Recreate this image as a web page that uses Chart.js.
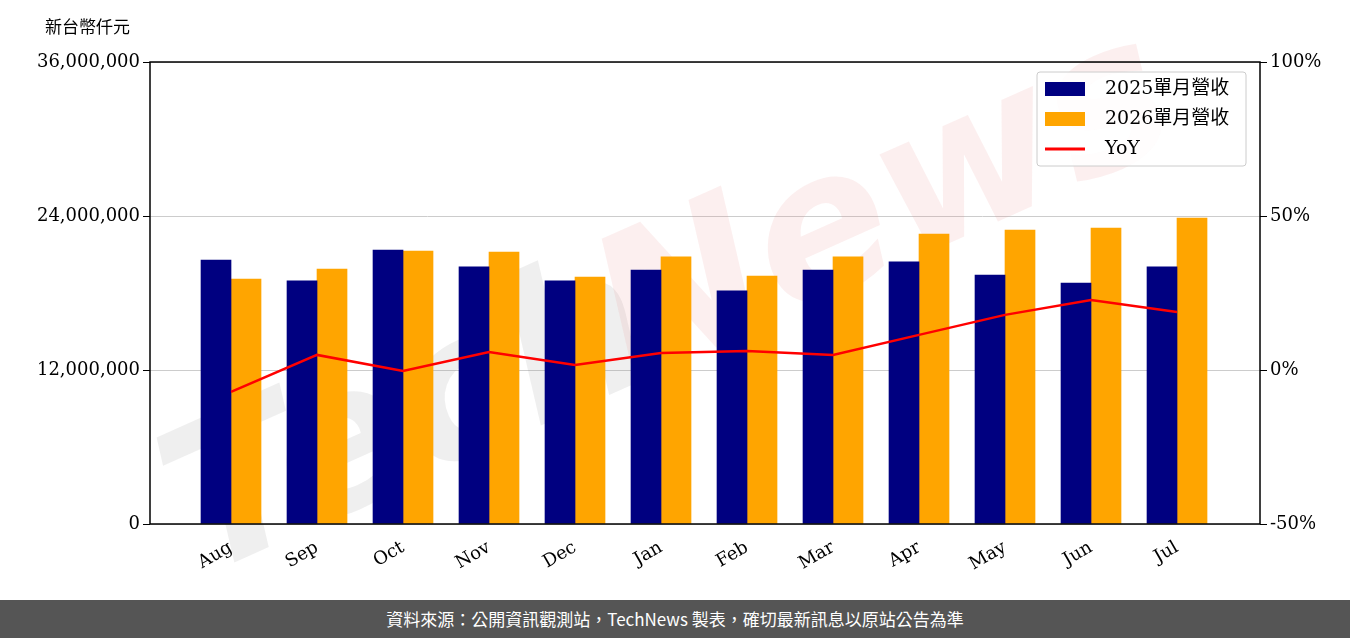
<!DOCTYPE html>
<html><head><meta charset="utf-8">
<script src="https://cdn.jsdelivr.net/npm/chart.js@4"></script>
<style>
body{margin:0;background:#fff;width:1350px;height:638px;overflow:hidden}
#wrap{position:relative;width:1350px;height:600px}
#foot{height:38px;background:#555;color:#fff;font:17px "Noto Sans CJK TC",sans-serif;text-align:center;line-height:38px}
</style></head><body>
<div id="wrap"><canvas id="c" width="1350" height="600"></canvas></div>
<div id="foot">資料來源：公開資訊觀測站，TechNews 製表，確切最新訊息以原站公告為準</div>
<script>
const months = ['Aug','Sep','Oct','Nov','Dec','Jan','Feb','Mar','Apr','May','Jun','Jul'];
const rev2025 = [20570000,18940000,21350000,20030000,18940000,19790000,18160000,19790000,20420000,19400000,18780000,20030000];
const rev2026 = [19090000,19870000,21270000,21190000,19250000,20810000,19320000,20810000,22600000,22900000,23060000,23840000];
const yoy = [-7.1,4.9,-0.3,5.8,1.6,5.5,6.2,4.9,11.4,17.9,22.7,18.8];
const leftTicks = [0,12000000,24000000,36000000];
const rightTicks = [-50,0,50,100];
const serif = '"DejaVu Serif", serif';

const pts = arr => arr.map((v,i)=>({x:i,y:v}));

const deco = {
  id:'deco',
  beforeDatasetsDraw(chart){
    const c = chart.ctx;
    c.save();
    c.translate(650,320);
    c.rotate(-0.42);
    c.font = 'italic bold 200px "DejaVu Sans"';
    c.textAlign='center';c.textBaseline='middle';
    c.fillStyle='rgba(150,150,150,0.15)';
    c.fillText('Tech',-260,0);
    c.fillStyle='rgba(230,120,120,0.12)';
    c.fillText('News',260,0);
    c.restore();
  },
  afterDraw(chart){
    const c = chart.ctx, a = chart.chartArea;
    c.save();
    c.strokeStyle='#000';c.lineWidth=1.5;
    c.strokeRect(a.left,a.top,a.right-a.left,a.bottom-a.top);
    c.fillStyle='#000';c.font='17px "Noto Sans CJK TC"';c.textBaseline='middle';
    c.fillText('新台幣仟元',45,27);
    const x=1037,y=72,w=209,h=94;
    c.fillStyle='rgba(255,255,255,0.85)';c.strokeStyle='#ccc';c.lineWidth=1;
    c.beginPath();c.roundRect(x,y,w,h,3);c.fill();c.stroke();
    const items=[['navy','2025單月營收','box'],['orange','2026單月營收','box'],['red','YoY','line']];
    items.forEach((it,i)=>{
      const yy=y+17+i*30;
      if(it[2]==='box'){c.fillStyle=it[0];c.fillRect(x+8,yy-7,40,14);}
      else{c.strokeStyle=it[0];c.lineWidth=3;c.beginPath();c.moveTo(x+8,yy);c.lineTo(x+48,yy);c.stroke();}
      c.fillStyle='#000';c.font='19px "DejaVu Serif","Noto Sans CJK TC"';c.fillText(it[1],x+68,yy);
    });
    c.restore();
  }
};

new Chart(document.getElementById('c'),{
  data:{datasets:[
    {type:'line',label:'YoY',data:pts(yoy),yAxisID:'y2',borderColor:'red',borderWidth:2.5,pointRadius:0,tension:0,order:0},
    {type:'bar',label:'2025單月營收',data:pts(rev2025),backgroundColor:'navy',yAxisID:'y',barThickness:30,order:1},
    {type:'bar',label:'2026單月營收',data:pts(rev2026),backgroundColor:'orange',yAxisID:'y',barThickness:30,order:1}
  ]},
  options:{
    responsive:false,animation:false,devicePixelRatio:1,
    layout:{padding:{top:62,left:0,right:0,bottom:0}},
    plugins:{legend:{display:false},tooltip:{enabled:false}},
    scales:{
      x:{type:'linear',min:-0.942,max:11.965,offset:false,
        afterBuildTicks(s){s.ticks=months.map((m,i)=>({value:i}));},
        grid:{display:false},border:{display:false},
        ticks:{color:'#000',font:{family:serif,size:18},minRotation:30,maxRotation:30,labelOffset:0,padding:5,
          callback:v=>months[v]},
        afterFit(s){s.height=76;}},
      y:{position:'left',min:0,max:36000000,
        afterBuildTicks(s){s.ticks=leftTicks.map(v=>({value:v}));},
        grid:{color:'#ccc',tickColor:'#000',tickLength:7},border:{display:false},
        ticks:{color:'#000',font:{family:serif,size:18},callback:v=>v.toLocaleString('en-US')},
        afterFit(s){s.width=150;}},
      y2:{position:'right',min:-50,max:100,
        afterBuildTicks(s){s.ticks=rightTicks.map(v=>({value:v}));},
        grid:{drawOnChartArea:false,tickColor:'#000',tickLength:7},border:{display:false},
        ticks:{color:'#000',font:{family:serif,size:18},callback:v=>v+'%'},
        afterFit(s){s.width=90;}}
    }
  },
  plugins:[deco]
});
</script>
</body></html>
